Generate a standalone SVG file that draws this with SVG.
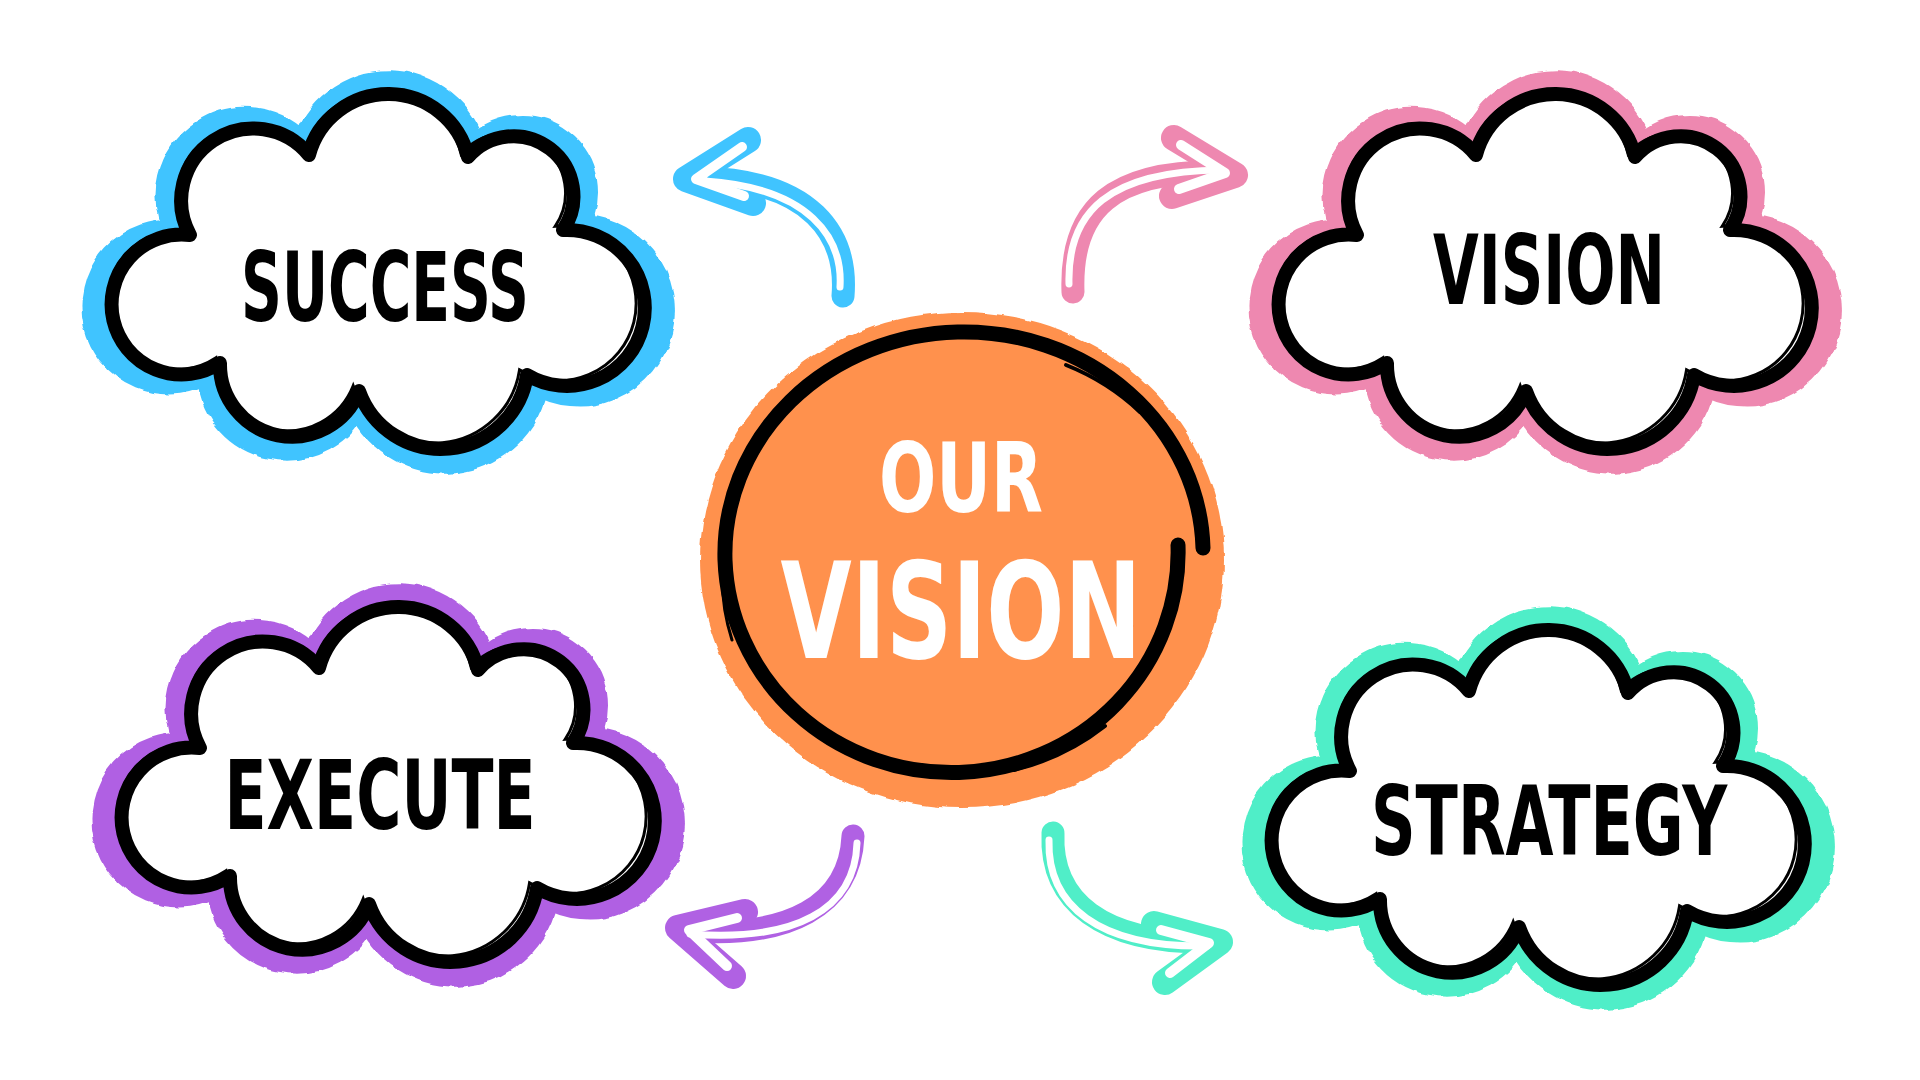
<svg xmlns="http://www.w3.org/2000/svg" width="1920" height="1080" viewBox="0 0 1920 1080">
<style>
.band{stroke-width:24;stroke-linejoin:round}
.outline{fill:#fff;stroke:#000;stroke-width:14;stroke-linejoin:round}
.sketch{fill:none;stroke:#000;stroke-width:3;stroke-linecap:round}
.label{font-family:'Liberation Sans Narrow','DejaVu Sans Condensed','Liberation Sans',sans-serif;font-weight:bold;text-anchor:middle}
.dark{fill:#000;font-size:96px}
.light{fill:#fff}
.arrow{fill:none;stroke-linecap:round;stroke-linejoin:round}
.shaft{stroke-width:23}
.head{stroke-width:26}
.hi{stroke:#fff;stroke-width:7}
.hihead{stroke:#fff;stroke-width:10}
.ring{fill:none;stroke:#000;stroke-linecap:round}
</style>
<defs>
<filter id="rough" x="-10%" y="-10%" width="120%" height="120%">
<feTurbulence type="fractalNoise" baseFrequency="0.06" numOctaves="2" seed="3"/>
<feDisplacementMap in="SourceGraphic" scale="5" xChannelSelector="R" yChannelSelector="G"/>
</filter>
<path id="cloud" d="M-158,98 A70,70 0 1 1 -188,-30 A72,72 0 0 1 -69,-110 A82,82 0 0 1 90,-108 A60,60 0 0 1 185,-35 A78,78 0 1 1 149,110 A87,87 0 0 1 -19,126 A72,72 0 0 1 -158,98 Z"/>
</defs>
<rect width="1920" height="1080" fill="#fff"/>

<g id="connectors">
<g id="arrow-blue" stroke="#40C4FF">
<path class="arrow shaft" d="M843,296 C848,235 812,180 700,178"/>
<path class="arrow head" d="M748,140 L686,179 L753,203"/>
<path class="arrow hi" d="M840,287 C843,238 810,188 705,181"/>
<path class="arrow hihead" d="M742,147 L696,179 L744,196"/>
</g>
<g id="arrow-pink" stroke="#EE88B0">
<path class="arrow shaft" d="M1073,292 C1070,210 1110,168 1230,172"/>
<path class="arrow head" d="M1174,138 L1235,175 L1172,196"/>
<path class="arrow hi" d="M1069,284 C1067,212 1108,171 1222,170"/>
<path class="arrow hihead" d="M1181,145 L1225,173 L1179,189"/>
</g>
<g id="arrow-purple" stroke="#B061E3">
<path class="arrow shaft" d="M853,836 C850,905 790,940 682,930"/>
<path class="arrow head" d="M745,912 L678,928 L733,976"/>
<path class="arrow hi" d="M857,843 C855,910 795,942 690,934"/>
<path class="arrow hihead" d="M737,918 L689,930 L727,966"/>
</g>
<g id="arrow-teal" stroke="#50EEC8">
<path class="arrow shaft" d="M1053,833 C1050,900 1100,945 1215,942"/>
<path class="arrow head" d="M1154,924 L1220,942 L1165,982"/>
<path class="arrow hi" d="M1049,840 C1047,905 1098,948 1207,946"/>
<path class="arrow hihead" d="M1161,930 L1209,943 L1170,973"/>
</g>
</g>

<g id="node-success" transform="translate(378,265)">
<use href="#cloud" class="band" fill="#40C4FF" stroke="#40C4FF" transform="scale(1.065)" filter="url(#rough)"/>
<use href="#cloud" class="outline"/>
<use href="#cloud" class="sketch" transform="translate(-6,-4) scale(0.99)"/>
<text class="label dark" x="7" y="56" textLength="288" lengthAdjust="spacingAndGlyphs">SUCCESS</text>
</g>

<g id="node-vision" transform="translate(1545,265)">
<use href="#cloud" class="band" fill="#EE88B0" stroke="#EE88B0" transform="scale(1.065)" filter="url(#rough)"/>
<use href="#cloud" class="outline"/>
<use href="#cloud" class="sketch" transform="translate(-6,-4) scale(0.99)"/>
<text class="label dark" x="4" y="39" textLength="232" lengthAdjust="spacingAndGlyphs">VISION</text>
</g>

<g id="node-execute" transform="translate(388,778)">
<use href="#cloud" class="band" fill="#B061E3" stroke="#B061E3" transform="scale(1.065)" filter="url(#rough)"/>
<use href="#cloud" class="outline"/>
<use href="#cloud" class="sketch" transform="translate(-6,-4) scale(0.99)"/>
<text class="label dark" x="-8" y="51" textLength="311" lengthAdjust="spacingAndGlyphs">EXECUTE</text>
</g>

<g id="node-strategy" transform="translate(1538,801)">
<use href="#cloud" class="band" fill="#50EEC8" stroke="#50EEC8" transform="scale(1.065)" filter="url(#rough)"/>
<use href="#cloud" class="outline"/>
<use href="#cloud" class="sketch" transform="translate(-6,-4) scale(0.99)"/>
<text class="label dark" x="11" y="54" textLength="356" lengthAdjust="spacingAndGlyphs">STRATEGY</text>
</g>

<g id="node-our-vision">
<ellipse cx="962" cy="560" rx="262" ry="248" fill="#FF914D" filter="url(#rough)"/>
<path class="ring" stroke-width="15" d="M1178,545 A226.5,220 0 0 1 725,560 A239,222 0 0 1 1203,548"/>
<path class="ring" stroke-width="4" d="M1066,365 A232,214 0 0 1 1140,412"/>
<path class="ring" stroke-width="4" d="M1105,726 A232,218 0 0 1 1014,770"/>
<path class="ring" stroke-width="3" d="M738,500 A230,215 0 0 0 732,640"/>
<text class="label light" x="961" y="512" font-size="97" textLength="164" lengthAdjust="spacingAndGlyphs">OUR</text>
<text class="label light" x="961" y="658" font-size="133" textLength="361" lengthAdjust="spacingAndGlyphs">VISION</text>
</g>
</svg>
